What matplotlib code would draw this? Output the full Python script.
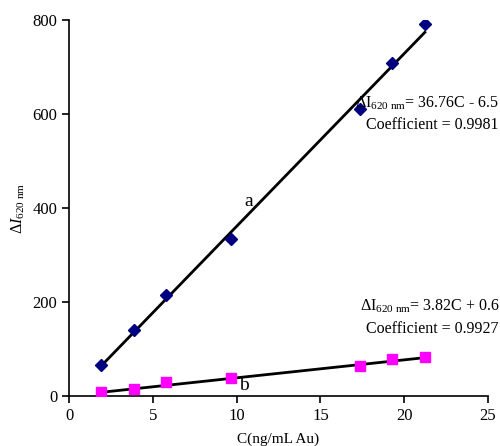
import matplotlib
matplotlib.use("Agg")
import matplotlib.pyplot as plt
import numpy as np

plt.rcParams['font.family'] = ['Liberation Serif', 'DejaVu Serif']
plt.rcParams['mathtext.fontset'] = 'custom'
plt.rcParams['mathtext.rm'] = 'Liberation Serif'
plt.rcParams['mathtext.it'] = 'Liberation Serif:italic'

conc = [1.93, 3.86, 5.79, 9.65, 17.37, 19.3, 21.23]
series_a = [66, 141, 214, 335, 611, 709, 791]
series_b = [9, 16, 29, 38, 64, 78, 84]
slope_a, icpt_a = 36.76, -6.5
slope_b, icpt_b = 3.82, 0.6
xticks = [0, 5, 10, 15, 20, 25]
yticks = [0, 200, 400, 600, 800]

fig = plt.figure(figsize=(5.0, 4.46), dpi=100)
ax = fig.add_axes([0.138, 0.112, 0.838, 0.843])

x = np.array(conc)
ax.plot(x, slope_a * x + icpt_a, color='black', lw=2, zorder=2)
ax.plot(x, slope_b * x + icpt_b, color='black', lw=2, zorder=2)
ax.plot(conc, series_a, linestyle='none', marker='D', color='#000080', ms=6.5, zorder=3)
ax.plot(conc, series_b, linestyle='none', marker='s', color='#FF00FF', ms=7, zorder=3)

ax.set_xlim(0, 25)
ax.set_ylim(0, 800)
ax.set_xticks(xticks)
ax.set_yticks(yticks)
for s in ['top', 'right']:
    ax.spines[s].set_visible(False)
for s in ['left', 'bottom']:
    ax.spines[s].set_linewidth(1.2)
ax.tick_params(direction='out', length=5, width=1.2, labelsize=12)

ax.set_xlabel('C(ng/mL Au)', fontsize=11, labelpad=6)
ax.set_ylabel(r'$\Delta \mathit{I}_{\rm 620\ nm}$', fontsize=11.5, labelpad=4)

ax.text(10.7, 415, 'a', fontsize=14, ha='center', va='center')
ax.text(10.45, 22, 'b', fontsize=14, ha='center', va='center')

ax.text(25.7, 623, r'$\Delta\mathrm{I}_{\rm 620\ nm}$= 36.76C - 6.5', fontsize=11.5, ha='right', va='center')
ax.text(25.6, 577, 'Coefficient = 0.9981', fontsize=11.5, ha='right', va='center')
ax.text(25.7, 192, r'$\Delta\mathrm{I}_{\rm 620\ nm}$= 3.82C + 0.6', fontsize=11.5, ha='right', va='center')
ax.text(25.6, 143, 'Coefficient = 0.9927', fontsize=11.5, ha='right', va='center')

fig.savefig('out.png', dpi=100)
